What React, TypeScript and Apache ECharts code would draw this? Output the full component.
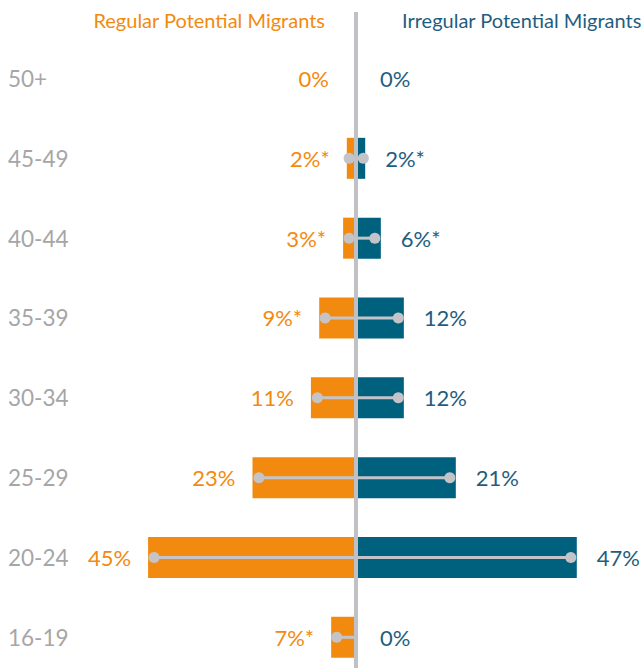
import React, { useEffect, useRef } from "react";
import * as echarts from "echarts";

// Age groups, top to bottom
const ageGroups = ["50+", "45-49", "40-44", "35-39", "30-34", "25-29", "20-24", "16-19"];

// Bar lengths (%)
const regularBar = [0, 2.0, 2.8, 8.0, 9.8, 22.5, 45.2, 5.4];
const irregularBar = [0, 2.0, 5.4, 10.4, 10.4, 21.7, 48.0, 0];

// Printed value labels
const regularLabel = ["0%", "2%*", "3%*", "9%*", "11%", "23%", "45%", "7%*"];
const irregularLabel = ["0%", "2%*", "6%*", "12%", "12%", "21%", "47%", "0%"];

// Grey dumbbell markers (%); null = no marker
const regularDot: (number | null)[] = [null, 1.5, 1.5, 6.7, 8.4, 21.1, 43.9, 4.2];
const irregularDot: (number | null)[] = [null, 1.6, 4.1, 9.2, 9.2, 20.4, 46.7, null];

const titles = ["Regular Potential Migrants", "Irregular Potential Migrants"];

const ORANGE = "#F28A10";
const TEAL = "#00617F";
const TEAL_TEXT = "#1F5E7E";
const GREY = "#C4C4C8";
const FONT = "Lato, 'Open Sans', sans-serif";

export default function App() {
  const ref = useRef<HTMLDivElement>(null);

  useEffect(() => {
    if (!ref.current) return;
    const chart = echarts.init(ref.current, undefined, { renderer: "svg" });

    const option: any = {
      animation: false,
      grid: { left: 126, width: 460, top: 78.5, bottom: 30.7, containLabel: false },
      xAxis: { type: "value", min: -50, max: 50, show: false },
      yAxis: {
        type: "category",
        inverse: true,
        boundaryGap: false,
        data: ageGroups,
        axisLine: { show: false },
        axisTick: { show: false },
        splitLine: { show: false },
        axisLabel: {
          color: "#A6A6A6",
          fontSize: 22.5,
          fontFamily: FONT,
          align: "left",
          margin: 118,
        },
      },
      series: [
        {
          type: "bar",
          name: titles[0],
          barWidth: 41,
          barGap: "-100%",
          itemStyle: { color: ORANGE },
          data: regularBar.map((v) => ({
            value: -v,
            label: { distance: v === 0 ? 27 : 17 },
          })),
          label: {
            show: true,
            position: "left",
            color: ORANGE,
            fontSize: 22,
            fontFamily: FONT,
            formatter: (p: any) => regularLabel[p.dataIndex],
          },
          z: 2,
        },
        {
          type: "bar",
          name: titles[1],
          barWidth: 41,
          barGap: "-100%",
          itemStyle: { color: TEAL },
          data: irregularBar.map((v) => ({
            value: v,
            label: { distance: v === 0 ? 24 : 20 },
          })),
          label: {
            show: true,
            position: "right",
            color: TEAL_TEXT,
            fontSize: 22,
            fontFamily: FONT,
            formatter: (p: any) => irregularLabel[p.dataIndex],
          },
          z: 2,
        },
        {
          type: "custom",
          z: 5,
          encode: { x: [1, 2], y: 0 },
          data: ageGroups.map((_, i) => [
            i,
            regularDot[i] == null ? 0 : -(regularDot[i] as number),
            irregularDot[i] == null ? 0 : (irregularDot[i] as number),
          ]),
          renderItem: (params: any, api: any) => {
            const i = params.dataIndex;
            const l = regularDot[i];
            const r = irregularDot[i];
            if (l == null && r == null) return { type: "group", children: [] };
            const p1 = api.coord([l == null ? 0 : -l, i]);
            const p2 = api.coord([r == null ? 0 : r, i]);
            const children: any[] = [
              {
                type: "line",
                shape: { x1: p1[0], y1: p1[1], x2: p2[0], y2: p2[1] },
                style: { stroke: GREY, lineWidth: 3 },
              },
            ];
            if (l != null)
              children.push({ type: "circle", shape: { cx: p1[0], cy: p1[1], r: 5.5 }, style: { fill: GREY } });
            if (r != null)
              children.push({ type: "circle", shape: { cx: p2[0], cy: p2[1], r: 5.5 }, style: { fill: GREY } });
            return { type: "group", children };
          },
        },
      ],
    };
    chart.setOption(option);

    const cx = chart.convertToPixel({ xAxisIndex: 0 }, 0) as number;
    chart.setOption({
      graphic: [
        {
          type: "line",
          z: 10,
          shape: { x1: cx, y1: 12, x2: cx, y2: 668 },
          style: { stroke: "#C1C1C5", lineWidth: 4 },
        },
        {
          type: "text",
          x: cx - 31,
          y: 20,
          style: {
            text: titles[0],
            fill: ORANGE,
            fontSize: 20,
            fontFamily: FONT,
            textAlign: "right",
            textVerticalAlign: "middle",
          },
        },
        {
          type: "text",
          x: cx + 46,
          y: 20,
          style: {
            text: titles[1],
            fill: TEAL_TEXT,
            fontSize: 20,
            fontFamily: FONT,
            textAlign: "left",
            textVerticalAlign: "middle",
          },
        },
      ],
    });

    return () => chart.dispose();
  }, []);

  return (
    <div
      ref={ref}
      style={{ position: "absolute", left: 0, top: 0, width: 644, height: 668 }}
    />
  );
}
